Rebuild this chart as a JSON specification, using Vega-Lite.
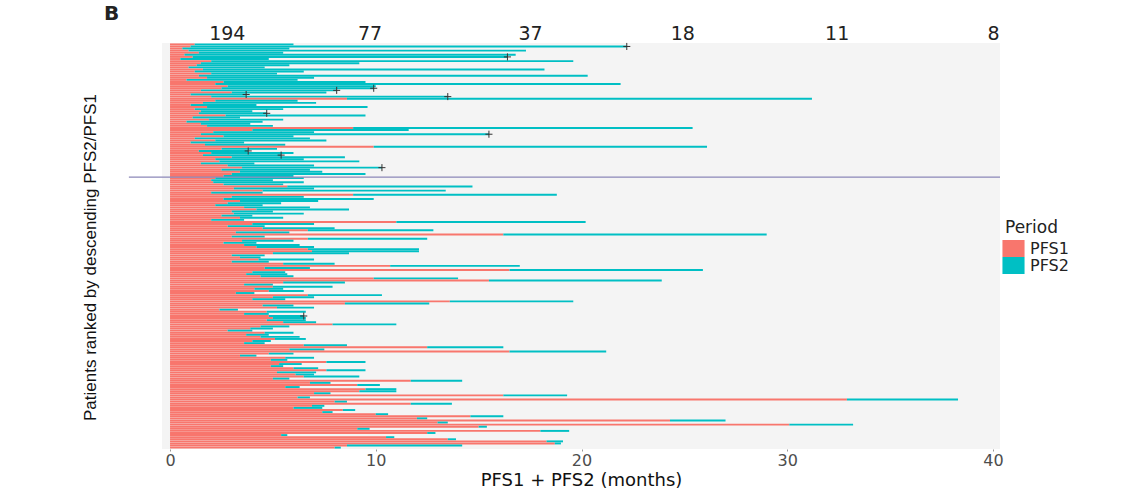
{
"$schema": "https://vega.github.io/schema/vega-lite/v6.json",
"width": 838, "height": 406,
"autosize": {"type": "none"},
"padding": {"left": 162, "top": 43, "right": 141, "bottom": 40},
"background": "white",
"config": {"view": {"fill": "#F4F4F4", "stroke": null}, "font": "DejaVu Sans"},
"title": {"text": "B", "anchor": "start", "frame": "group", "dx": -58, "fontSize": 20, "fontWeight": "bold", "font": "DejaVu Sans", "color": "#222", "offset": 0},
"datasets": {
"pts": [
{"id":1,"PFS1":1.2,"PFS2":4.8,"c":0},{"id":2,"PFS1":1.0,"PFS2":21.2,"c":1},{"id":3,"PFS1":0.6,"PFS2":5.2,"c":0},{"id":4,"PFS1":0.9,"PFS2":16.4,"c":0},{"id":5,"PFS1":1.4,"PFS2":4.1,"c":0},{"id":6,"PFS1":0.7,"PFS2":16.1,"c":0},{"id":7,"PFS1":1.1,"PFS2":15.3,"c":1},{"id":8,"PFS1":0.5,"PFS2":4.3,"c":0},{"id":9,"PFS1":2.0,"PFS2":17.6,"c":0},{"id":10,"PFS1":1.5,"PFS2":7.7,"c":0},
{"id":11,"PFS1":1.3,"PFS2":4.5,"c":0},{"id":12,"PFS1":0.9,"PFS2":3.7,"c":0},{"id":13,"PFS1":1.6,"PFS2":16.6,"c":0},{"id":14,"PFS1":1.2,"PFS2":5.3,"c":0},{"id":15,"PFS1":2.0,"PFS2":3.2,"c":0},{"id":16,"PFS1":1.4,"PFS2":18.9,"c":0},{"id":17,"PFS1":1.8,"PFS2":5.2,"c":0},{"id":18,"PFS1":0.8,"PFS2":5.4,"c":0},{"id":19,"PFS1":2.6,"PFS2":6.9,"c":0},{"id":20,"PFS1":2.2,"PFS2":19.7,"c":0},
{"id":21,"PFS1":2.8,"PFS2":7.2,"c":0},{"id":22,"PFS1":2.5,"PFS2":7.4,"c":1},{"id":23,"PFS1":1.5,"PFS2":6.6,"c":1},{"id":24,"PFS1":3.0,"PFS2":4.6,"c":0},{"id":25,"PFS1":1.0,"PFS2":2.7,"c":1},{"id":26,"PFS1":2.0,"PFS2":11.5,"c":1},{"id":27,"PFS1":8.6,"PFS2":22.6,"c":0},{"id":28,"PFS1":2.2,"PFS2":4.0,"c":0},{"id":29,"PFS1":1.6,"PFS2":5.5,"c":0},{"id":30,"PFS1":1.0,"PFS2":3.2,"c":0},
{"id":31,"PFS1":1.8,"PFS2":7.8,"c":0},{"id":32,"PFS1":1.2,"PFS2":4.3,"c":0},{"id":33,"PFS1":1.5,"PFS2":2.5,"c":0},{"id":34,"PFS1":1.4,"PFS2":3.3,"c":1},{"id":35,"PFS1":2.7,"PFS2":6.8,"c":0},{"id":36,"PFS1":1.1,"PFS2":2.3,"c":0},{"id":37,"PFS1":1.9,"PFS2":3.6,"c":0},{"id":38,"PFS1":0.8,"PFS2":3.7,"c":0},{"id":39,"PFS1":1.5,"PFS2":2.4,"c":0},{"id":40,"PFS1":1.8,"PFS2":3.2,"c":0},
{"id":41,"PFS1":8.9,"PFS2":16.5,"c":0},{"id":42,"PFS1":4.0,"PFS2":7.6,"c":0},{"id":43,"PFS1":2.1,"PFS2":4.9,"c":0},{"id":44,"PFS1":1.5,"PFS2":14.0,"c":1},{"id":45,"PFS1":2.6,"PFS2":3.4,"c":0},{"id":46,"PFS1":1.2,"PFS2":5.6,"c":0},{"id":47,"PFS1":2.2,"PFS2":5.4,"c":0},{"id":48,"PFS1":1.0,"PFS2":2.6,"c":0},{"id":49,"PFS1":1.7,"PFS2":3.9,"c":0},{"id":50,"PFS1":9.9,"PFS2":16.2,"c":0},
{"id":51,"PFS1":2.5,"PFS2":2.7,"c":0},{"id":52,"PFS1":1.4,"PFS2":2.4,"c":1},{"id":53,"PFS1":2.0,"PFS2":4.0,"c":0},{"id":54,"PFS1":1.6,"PFS2":3.8,"c":1},{"id":55,"PFS1":3.0,"PFS2":5.5,"c":0},{"id":56,"PFS1":2.2,"PFS2":4.3,"c":0},{"id":57,"PFS1":2.4,"PFS2":6.8,"c":0},{"id":58,"PFS1":1.5,"PFS2":2.6,"c":0},{"id":59,"PFS1":2.8,"PFS2":4.2,"c":0},{"id":60,"PFS1":3.5,"PFS2":6.8,"c":1},
{"id":61,"PFS1":2.5,"PFS2":4.3,"c":0},{"id":62,"PFS1":3.4,"PFS2":4.0,"c":0},{"id":63,"PFS1":3.0,"PFS2":6.5,"c":0},{"id":64,"PFS1":2.6,"PFS2":3.4,"c":0},
{"id":65,"PFS1":2.2,"PFS2":4.3,"c":0},{"id":66,"PFS1":2.0,"PFS2":3.0,"c":0},{"id":67,"PFS1":2.1,"PFS2":4.4,"c":0},{"id":68,"PFS1":2.6,"PFS2":2.9,"c":0},{"id":69,"PFS1":5.7,"PFS2":9.0,"c":0},{"id":70,"PFS1":3.1,"PFS2":3.9,"c":0},
{"id":71,"PFS1":4.5,"PFS2":8.9,"c":0},{"id":72,"PFS1":2.0,"PFS2":2.5,"c":0},{"id":73,"PFS1":8.9,"PFS2":9.9,"c":0},{"id":74,"PFS1":3.0,"PFS2":3.5,"c":0},{"id":75,"PFS1":2.6,"PFS2":7.3,"c":0},{"id":76,"PFS1":3.4,"PFS2":3.8,"c":0},{"id":77,"PFS1":2.8,"PFS2":2.6,"c":0},{"id":78,"PFS1":2.2,"PFS2":2.3,"c":0},{"id":79,"PFS1":3.6,"PFS2":3.2,"c":0},{"id":80,"PFS1":4.2,"PFS2":4.5,"c":0},
{"id":81,"PFS1":3.0,"PFS2":2.0,"c":0},{"id":82,"PFS1":3.1,"PFS2":3.4,"c":0},{"id":83,"PFS1":2.5,"PFS2":1.5,"c":0},{"id":84,"PFS1":3.4,"PFS2":2.1,"c":0},{"id":85,"PFS1":2.0,"PFS2":1.6,"c":0},{"id":86,"PFS1":11.0,"PFS2":9.2,"c":0},{"id":87,"PFS1":4.0,"PFS2":3.0,"c":0},{"id":88,"PFS1":2.8,"PFS2":1.8,"c":0},{"id":89,"PFS1":4.5,"PFS2":3.5,"c":0},{"id":90,"PFS1":6.7,"PFS2":6.1,"c":0},
{"id":91,"PFS1":3.2,"PFS2":2.6,"c":0},{"id":92,"PFS1":16.2,"PFS2":12.8,"c":0},{"id":93,"PFS1":3.0,"PFS2":1.6,"c":0},{"id":94,"PFS1":6.7,"PFS2":5.8,"c":0},{"id":95,"PFS1":3.5,"PFS2":2.5,"c":0},{"id":96,"PFS1":2.6,"PFS2":1.6,"c":0},{"id":97,"PFS1":3.6,"PFS2":2.7,"c":0},{"id":98,"PFS1":4.2,"PFS2":2.8,"c":0},{"id":99,"PFS1":6.7,"PFS2":5.4,"c":0},{"id":100,"PFS1":6.9,"PFS2":5.2,"c":0},
{"id":101,"PFS1":5.0,"PFS2":3.7,"c":0},{"id":102,"PFS1":3.0,"PFS2":1.6,"c":0},{"id":103,"PFS1":3.4,"PFS2":1.0,"c":0},{"id":104,"PFS1":4.3,"PFS2":2.7,"c":0},{"id":105,"PFS1":3.0,"PFS2":1.8,"c":0},{"id":106,"PFS1":5.5,"PFS2":2.5,"c":0},{"id":107,"PFS1":10.7,"PFS2":6.3,"c":0},{"id":108,"PFS1":4.6,"PFS2":2.2,"c":0},{"id":109,"PFS1":16.5,"PFS2":9.4,"c":0},{"id":110,"PFS1":4.0,"PFS2":1.6,"c":0},
{"id":111,"PFS1":3.7,"PFS2":2.0,"c":0},{"id":112,"PFS1":4.4,"PFS2":1.6,"c":0},{"id":113,"PFS1":9.9,"PFS2":4.1,"c":0},{"id":114,"PFS1":15.5,"PFS2":8.4,"c":0},{"id":115,"PFS1":5.5,"PFS2":3.0,"c":0},{"id":116,"PFS1":3.6,"PFS2":1.4,"c":0},{"id":117,"PFS1":5.0,"PFS2":2.9,"c":0},{"id":118,"PFS1":4.1,"PFS2":1.4,"c":0},{"id":119,"PFS1":4.8,"PFS2":1.7,"c":0},{"id":120,"PFS1":3.2,"PFS2":0.9,"c":0},
{"id":121,"PFS1":6.7,"PFS2":3.6,"c":0},{"id":122,"PFS1":5.0,"PFS2":2.0,"c":0},{"id":123,"PFS1":4.0,"PFS2":1.6,"c":0},{"id":124,"PFS1":13.6,"PFS2":6.0,"c":0},{"id":125,"PFS1":8.5,"PFS2":4.1,"c":0},{"id":126,"PFS1":4.5,"PFS2":1.5,"c":0},{"id":127,"PFS1":5.2,"PFS2":1.8,"c":0},{"id":128,"PFS1":2.4,"PFS2":0.9,"c":0},{"id":129,"PFS1":4.7,"PFS2":1.9,"c":0},{"id":130,"PFS1":3.6,"PFS2":1.2,"c":0},
{"id":131,"PFS1":4.8,"PFS2":1.7,"c":1},{"id":132,"PFS1":5.0,"PFS2":1.6,"c":0},{"id":133,"PFS1":4.7,"PFS2":1.9,"c":0},{"id":134,"PFS1":5.5,"PFS2":1.6,"c":0},{"id":135,"PFS1":7.9,"PFS2":3.1,"c":0},{"id":136,"PFS1":4.4,"PFS2":1.4,"c":0},{"id":137,"PFS1":3.9,"PFS2":1.1,"c":0},{"id":138,"PFS1":2.8,"PFS2":1.2,"c":0},{"id":139,"PFS1":4.6,"PFS2":1.4,"c":0},{"id":140,"PFS1":3.7,"PFS2":1.1,"c":0},
{"id":141,"PFS1":4.4,"PFS2":1.9,"c":0},{"id":142,"PFS1":5.1,"PFS2":1.5,"c":0},{"id":143,"PFS1":4.0,"PFS2":0.9,"c":0},{"id":144,"PFS1":3.6,"PFS2":1.0,"c":0},{"id":145,"PFS1":6.5,"PFS2":2.1,"c":0},{"id":146,"PFS1":12.5,"PFS2":3.7,"c":0},{"id":147,"PFS1":5.8,"PFS2":1.7,"c":0},{"id":148,"PFS1":16.5,"PFS2":4.7,"c":0},{"id":149,"PFS1":4.8,"PFS2":1.2,"c":0},{"id":150,"PFS1":3.4,"PFS2":0.8,"c":0},
{"id":151,"PFS1":5.6,"PFS2":1.4,"c":0},{"id":152,"PFS1":4.9,"PFS2":0.8,"c":0},{"id":153,"PFS1":7.6,"PFS2":1.9,"c":0},{"id":154,"PFS1":5.3,"PFS2":1.1,"c":0},{"id":155,"PFS1":4.9,"PFS2":0.6,"c":0},{"id":156,"PFS1":6.0,"PFS2":1.2,"c":0},{"id":157,"PFS1":7.6,"PFS2":1.9,"c":0},{"id":158,"PFS1":5.2,"PFS2":1.9,"c":0},{"id":159,"PFS1":6.1,"PFS2":0.9,"c":0},{"id":160,"PFS1":6.5,"PFS2":2.7,"c":0},
{"id":161,"PFS1":5.0,"PFS2":0.8,"c":0},{"id":162,"PFS1":11.7,"PFS2":2.5,"c":0},{"id":163,"PFS1":6.8,"PFS2":1.0,"c":0},{"id":164,"PFS1":9.1,"PFS2":1.1,"c":0},{"id":165,"PFS1":5.6,"PFS2":0.7,"c":0},{"id":166,"PFS1":9.5,"PFS2":1.5,"c":0},{"id":167,"PFS1":9.2,"PFS2":1.8,"c":0},{"id":168,"PFS1":7.0,"PFS2":0.8,"c":0},{"id":169,"PFS1":16.2,"PFS2":3.1,"c":0},{"id":170,"PFS1":6.2,"PFS2":0.6,"c":0},
{"id":171,"PFS1":32.9,"PFS2":5.4,"c":0},{"id":172,"PFS1":8.0,"PFS2":0.6,"c":0},{"id":173,"PFS1":11.7,"PFS2":2.0,"c":0},{"id":174,"PFS1":6.9,"PFS2":0.6,"c":0},{"id":175,"PFS1":6.0,"PFS2":1.4,"c":0},{"id":176,"PFS1":8.4,"PFS2":0.6,"c":0},{"id":177,"PFS1":7.4,"PFS2":0.5,"c":0},{"id":178,"PFS1":10.0,"PFS2":0.6,"c":0},{"id":179,"PFS1":14.6,"PFS2":1.6,"c":0},{"id":180,"PFS1":12.0,"PFS2":0.5,"c":0},
{"id":181,"PFS1":24.3,"PFS2":2.7,"c":0},{"id":182,"PFS1":13.0,"PFS2":0.5,"c":0},{"id":183,"PFS1":30.1,"PFS2":3.1,"c":0},{"id":184,"PFS1":15.0,"PFS2":0.4,"c":0},{"id":185,"PFS1":9.1,"PFS2":0.6,"c":0},{"id":186,"PFS1":18.0,"PFS2":1.4,"c":0},{"id":187,"PFS1":12.5,"PFS2":0.4,"c":0},{"id":188,"PFS1":5.4,"PFS2":0.3,"c":0},{"id":189,"PFS1":10.5,"PFS2":0.4,"c":0},{"id":190,"PFS1":13.5,"PFS2":0.4,"c":0},
{"id":191,"PFS1":18.3,"PFS2":0.8,"c":0},{"id":192,"PFS1":18.7,"PFS2":0.3,"c":0},{"id":193,"PFS1":8.6,"PFS2":5.6,"c":0},{"id":194,"PFS1":8.0,"PFS2":0.3,"c":0}
],
"cut": [{"id": 65, "x1": -2.0, "x2": 40.34}]
},
"layer": [
{
"data": {"name": "pts"},
"transform": [{"fold": ["PFS1", "PFS2"], "as": ["Period", "months"]}],
"mark": {"type": "bar", "orient": "horizontal"},
"encoding": {
"y": {"field": "id", "type": "ordinal", "scale": {"paddingInner": 0.08, "paddingOuter": 0.2},
 "axis": {"title": "Patients ranked by descending PFS2/PFS1", "labels": false, "ticks": false, "domain": false, "titleFont": "Liberation Sans", "titleFontSize": 17, "titleFontWeight": "normal", "titleColor": "#111", "titleX": -63, "titleY": 214}},
"x": {"field": "months", "type": "quantitative", "stack": "zero", "scale": {"domain": [-0.39, 40.34], "nice": false, "zero": false},
 "axis": {"title": "PFS1 + PFS2 (months)", "values": [0, 10, 20, 30, 40], "grid": false, "domain": false, "tickColor": "#999", "tickSize": 2, "labelFontSize": 16, "labelColor": "#4D4D4D", "labelPadding": 1, "labelFlush": false, "labelOverlap": false, "titleFontSize": 18, "titleFontWeight": "normal", "titleColor": "#111", "titlePadding": 3}},
"color": {"field": "Period", "type": "nominal", "scale": {"domain": ["PFS1", "PFS2"], "range": ["#F8766D", "#00BFC4"]},
 "legend": {"orient": "none", "legendX": 843, "legendY": 177, "title": "Period", "titleFontSize": 17, "titleFontWeight": "normal", "titleColor": "#222", "titlePadding": 3, "labelFontSize": 16, "labelColor": "#222", "symbolType": "M-1.3,-1H1.3V1H-1.3Z", "symbolSize": 289, "symbolStrokeWidth": 0, "symbolOpacity": 1, "rowPadding": 0, "labelOffset": 8}},
"order": {"field": "Period"}
}
},
{
"data": {"name": "pts"},
"transform": [{"fold": ["PFS1", "PFS2"], "as": ["Period", "months"]}],
"mark": {"type": "point", "shape": "M-1,0H1M0,-1V1", "filled": false, "size": 50, "strokeWidth": 1, "color": "#333"},
"encoding": {
"y": {"field": "id", "type": "ordinal"},
"x": {"field": "months", "type": "quantitative", "stack": "zero", "scale": {"domain": [-0.39, 40.34], "nice": false, "zero": false}, "axis": null},
"detail": {"field": "Period"},
"order": {"field": "Period"},
"opacity": {"condition": {"test": "datum.Period == 'PFS2' && datum.c == 1", "value": 1}, "value": 0}
}
},
{
"data": {"name": "cut"},
"mark": {"type": "rule", "color": "#8B87B8", "strokeWidth": 1.3},
"encoding": {
"y": {"field": "id", "type": "ordinal", "bandPosition": 0},
"x": {"field": "x1", "type": "quantitative", "scale": {"domain": [-0.39, 40.34], "nice": false, "zero": false},
 "axis": {"orient": "top", "title": null, "values": [2.76, 9.7, 17.5, 24.9, 32.4, 40.0], "labelExpr": "datum.value < 5 ? '194' : datum.value < 13 ? '77' : datum.value < 20 ? '37' : datum.value < 28 ? '18' : datum.value < 36 ? '11' : '8'", "domain": false, "ticks": false, "grid": false, "labelFontSize": 19, "labelColor": "#222", "labelPadding": 0, "labelFlush": false, "labelOverlap": false}},
"x2": {"field": "x2"}
}
}
],
"resolve": {"axis": {"x": "independent"}}
}
